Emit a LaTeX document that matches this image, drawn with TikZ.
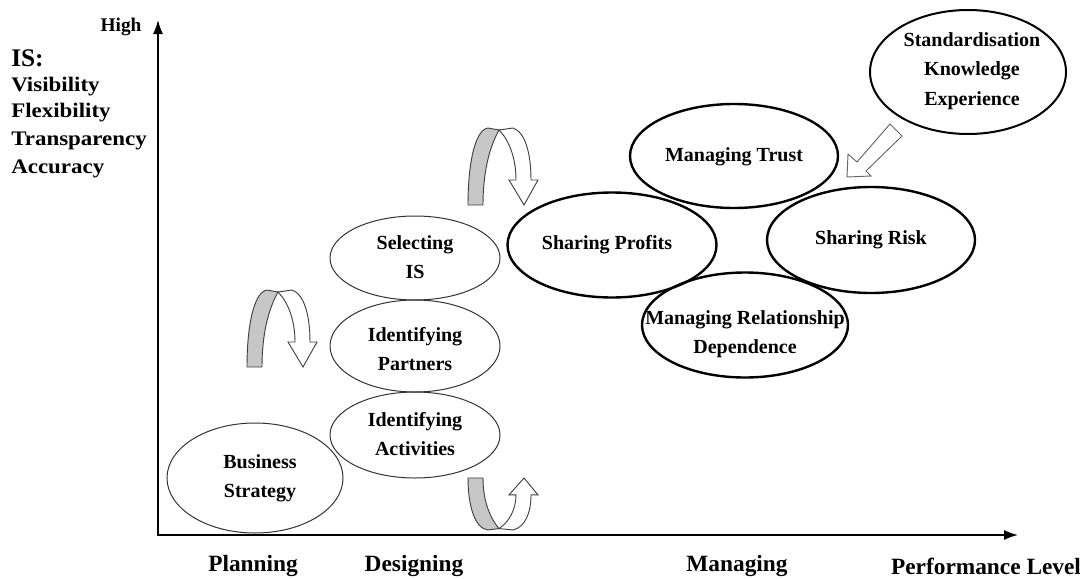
\documentclass[tikz,border=0pt]{standalone}
\usepackage{fontspec}
\setmainfont{Liberation Serif}
\usetikzlibrary{shapes.geometric,arrows.meta}
\newcommand\dtxt{\bfseries\fontsize{15}{22}\selectfont}
\newcommand\atxt{\bfseries\fontsize{17.5}{20}\selectfont}
\newcommand\ltxt{\bfseries\fontsize{15.5}{20}\selectfont}
\begin{document}
\begin{tikzpicture}[x=0.75pt,y=-0.75pt,
  thinell/.style={ellipse, draw=black!80, line width=0.75pt, inner sep=0pt},
  thickell/.style={ellipse, draw=black, line width=1.8pt, inner sep=0pt},
  etext/.style={align=center, inner sep=0pt, font=\dtxt},
  axlbl/.style={inner sep=0pt, font=\atxt},
  islbl/.style={anchor=west, inner sep=0pt, font=\ltxt},
  axis/.style={line width=1.1pt, {Latex[length=10.5pt,width=7.5pt]}-{Latex[length=10.5pt,width=7.5pt]}},
  uturn/.pic={
    \filldraw[draw=black!75, line width=0.7pt, fill=black!22]
      (17,87) .. controls (17,45) and (24,12) .. (37,10) -- (48,12)
      .. controls (38,30) and (32,55) .. (32,87) -- cycle;
    \filldraw[draw=black!75, line width=0.7pt, fill=white]
      (48,12) -- (62,10) .. controls (74,14) and (80,35) .. (80,62)
      -- (87,62) -- (73,87) -- (58,62) -- (65,62)
      .. controls (65,40) and (58,22) .. (48,12) -- cycle;
  }
]
\useasboundingbox (0,0) rectangle (1080,578);

% axes
\coordinate (O) at (158,535);
\coordinate (ytop) at (158,20);
\coordinate (xend) at (1018,535);
\draw[axis] (ytop) -- (O) -- (xend);

% axis labels
\node[inner sep=0pt, font=\bfseries\fontsize{14.5}{16}\selectfont] (high) at (121,27) {High};
\node[axlbl] (plan) at (253,566) {Planning};
\node[axlbl] (des) at (414,566) {Designing};
\node[axlbl] (man) at (737,566) {Managing};
\node[axlbl] (perf) at (986,566) {Performance Level};

% IS list
\node[islbl, font=\bfseries\fontsize{19}{20}\selectfont] (is) at (11,58) {IS:};
\node[islbl] (vis) at (11,87) {\scalebox{1.11}[1]{Visibility}};
\node[islbl] (flex) at (11,113) {\scalebox{1.11}[1]{Flexibility}};
\node[islbl] (trans) at (11,141) {\scalebox{1.11}[1]{Transparency}};
\node[islbl] (acc) at (11,169) {\scalebox{1.11}[1]{Accuracy}};

% left ellipses
\node[thinell, minimum width=132pt, minimum height=82.5pt] (bs) at (255,478) {};
\node[etext] (bs-t) at (260,478) {Business\\Strategy};
\node[thinell, minimum width=127.5pt, minimum height=64.5pt] (ia) at (415,435) {};
\node[etext] (ia-t) at (415,434) {Identifying\\Activities};
\node[thinell, minimum width=127.5pt, minimum height=69pt] (ip) at (415,346) {};
\node[etext] (ip-t) at (415,349) {Identifying\\Partners};
\node[thinell, minimum width=127.5pt, minimum height=63pt] (sis) at (415,258) {};
\node[etext] (sis-t) at (415,257) {Selecting\\IS};

% managing cluster
\node[thickell, minimum width=156pt, minimum height=78pt] (mt) at (734,156) {};
\node[etext] (mt-t) at (734,157) {Managing Trust};
\node[thickell, minimum width=156.75pt, minimum height=78.75pt] (sp) at (612,245) {};
\node[etext] (sp-t) at (607,245) {Sharing Profits};
\node[thickell, minimum width=156pt, minimum height=79.5pt] (sr) at (871,240) {};
\node[etext] (sr-t) at (871,240) {Sharing Risk};
\node[thickell, minimum width=154.5pt, minimum height=78.75pt] (mrd) at (745,325) {};
\node[etext] (mrd-t) at (745,334) {Managing Relationship\\Dependence};
\node[thickell, line width=1.5pt, minimum width=147pt, minimum height=93pt] (std) at (968,72) {};
\node[etext] (std-t) at (972,71) {Standardisation\\Knowledge\\Experience};

% hollow block arrow from std
\filldraw[draw=black!60, line width=0.7pt, fill=white]
  (847,177) -- (848,154) -- (857,162) -- (890,124) -- (902,136)
  -- (866,171) -- (871,176) -- cycle;

% curved arrows
\pic at (230,280) {uturn};
\pic at (451,118) {uturn};
\pic[yscale=-0.675] at (451,536.7) {uturn};
\end{tikzpicture}
\end{document}
